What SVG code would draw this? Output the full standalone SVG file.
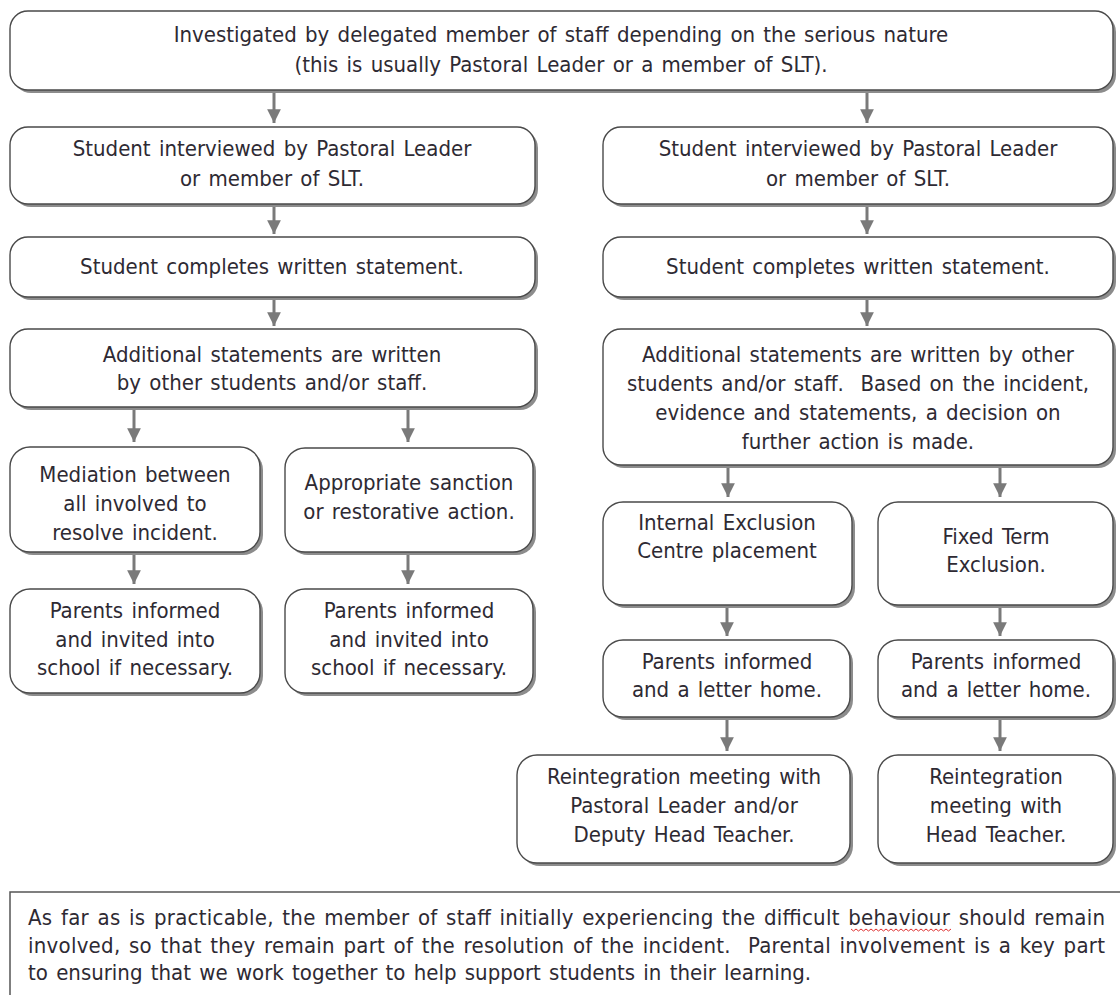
<svg xmlns="http://www.w3.org/2000/svg" width="1120" height="995" viewBox="0 0 1120 995">
<style>
  .sh { fill: #8c8c8c; }
  .box { fill: #ffffff; stroke: #4a4a4a; stroke-width: 1.4; }
  text { font-family: "DejaVu Sans Condensed", "DejaVu Sans", sans-serif; font-size: 22px; word-spacing: 2px; fill: #2e2a33; }
  .c { text-anchor: middle; }
  .conn line { stroke: #7a7a7a; stroke-width: 3; }
  .note { fill: #ffffff; stroke: #555555; stroke-width: 1.5; }
</style>
<defs>
  <marker id="ah" viewBox="0 0 10 10" refX="10" refY="5" markerWidth="4.6" markerHeight="4.6" markerUnits="strokeWidth" orient="auto">
    <path d="M0,0 L10,5 L0,10 Z" fill="#7a7a7a"/>
  </marker>
</defs>
<rect x="0" y="0" width="1120" height="995" fill="#ffffff"/>

<g class="conn" id="connectors">
  <line x1="274" y1="91" x2="274" y2="123" marker-end="url(#ah)"/>
  <line x1="867" y1="91" x2="867" y2="123" marker-end="url(#ah)"/>
  <line x1="274" y1="205" x2="274" y2="234" marker-end="url(#ah)"/>
  <line x1="867" y1="205" x2="867" y2="234" marker-end="url(#ah)"/>
  <line x1="274" y1="298" x2="274" y2="326" marker-end="url(#ah)"/>
  <line x1="867" y1="298" x2="867" y2="326" marker-end="url(#ah)"/>
  <line x1="134" y1="408" x2="134" y2="442" marker-end="url(#ah)"/>
  <line x1="408" y1="408" x2="408" y2="442" marker-end="url(#ah)"/>
  <line x1="134" y1="553" x2="134" y2="584" marker-end="url(#ah)"/>
  <line x1="408" y1="553" x2="408" y2="584" marker-end="url(#ah)"/>
  <line x1="728" y1="466" x2="728" y2="497" marker-end="url(#ah)"/>
  <line x1="1000" y1="466" x2="1000" y2="497" marker-end="url(#ah)"/>
  <line x1="727" y1="606" x2="727" y2="636" marker-end="url(#ah)"/>
  <line x1="1000" y1="606" x2="1000" y2="636" marker-end="url(#ah)"/>
  <line x1="727" y1="718" x2="727" y2="751" marker-end="url(#ah)"/>
  <line x1="1000" y1="718" x2="1000" y2="751" marker-end="url(#ah)"/>
</g>

<g id="investigated">
  <rect class="sh" x="13" y="14" width="1103" height="79" rx="18"/>
  <rect class="box" x="10" y="11" width="1103" height="79" rx="18"/>
  <text class="c" x="561" y="42">Investigated by delegated member of staff depending on the serious nature</text>
  <text class="c" x="561" y="72">(this is usually Pastoral Leader or a member of SLT).</text>
</g>

<g id="interview-left">
  <rect class="sh" x="13" y="130" width="525" height="77" rx="18"/>
  <rect class="box" x="10" y="127" width="525" height="77" rx="18"/>
  <text class="c" x="272" y="156">Student interviewed by Pastoral Leader</text>
  <text class="c" x="272" y="186">or member of SLT.</text>
</g>
<g id="interview-right">
  <rect class="sh" x="606" y="130" width="510" height="77" rx="18"/>
  <rect class="box" x="603" y="127" width="510" height="77" rx="18"/>
  <text class="c" x="858" y="156">Student interviewed by Pastoral Leader</text>
  <text class="c" x="858" y="186">or member of SLT.</text>
</g>

<g id="statement-left">
  <rect class="sh" x="13" y="240" width="525" height="60" rx="18"/>
  <rect class="box" x="10" y="237" width="525" height="60" rx="18"/>
  <text class="c" x="272" y="274">Student completes written statement.</text>
</g>
<g id="statement-right">
  <rect class="sh" x="606" y="240" width="510" height="60" rx="18"/>
  <rect class="box" x="603" y="237" width="510" height="60" rx="18"/>
  <text class="c" x="858" y="274">Student completes written statement.</text>
</g>

<g id="additional-left">
  <rect class="sh" x="13" y="332" width="525" height="78" rx="18"/>
  <rect class="box" x="10" y="329" width="525" height="78" rx="18"/>
  <text class="c" x="272" y="362">Additional statements are written</text>
  <text class="c" x="272" y="390">by other students and/or staff.</text>
</g>
<g id="additional-right">
  <rect class="sh" x="606" y="332" width="510" height="136" rx="18"/>
  <rect class="box" x="603" y="329" width="510" height="136" rx="18"/>
  <text class="c" x="858" y="362">Additional statements are written by other</text>
  <text class="c" x="858" y="391">students and/or staff.&#160; Based on the incident,</text>
  <text class="c" x="858" y="420">evidence and statements, a decision on</text>
  <text class="c" x="858" y="449">further action is made.</text>
</g>

<g id="mediation">
  <rect class="sh" x="13" y="450" width="250" height="105" rx="20"/>
  <rect class="box" x="10" y="447" width="250" height="105" rx="20"/>
  <text class="c" x="135" y="482">Mediation between</text>
  <text class="c" x="135" y="511">all involved to</text>
  <text class="c" x="135" y="540">resolve incident.</text>
</g>
<g id="sanction">
  <rect class="sh" x="288" y="451" width="248" height="104" rx="20"/>
  <rect class="box" x="285" y="448" width="248" height="104" rx="20"/>
  <text class="c" x="409" y="490">Appropriate sanction</text>
  <text class="c" x="409" y="519">or restorative action.</text>
</g>

<g id="parents-1">
  <rect class="sh" x="13" y="592" width="250" height="104" rx="20"/>
  <rect class="box" x="10" y="589" width="250" height="104" rx="20"/>
  <text class="c" x="135" y="618">Parents informed</text>
  <text class="c" x="135" y="647">and invited into</text>
  <text class="c" x="135" y="675">school if necessary.</text>
</g>
<g id="parents-2">
  <rect class="sh" x="288" y="592" width="248" height="104" rx="20"/>
  <rect class="box" x="285" y="589" width="248" height="104" rx="20"/>
  <text class="c" x="409" y="618">Parents informed</text>
  <text class="c" x="409" y="647">and invited into</text>
  <text class="c" x="409" y="675">school if necessary.</text>
</g>

<g id="internal-exclusion">
  <rect class="sh" x="606" y="505" width="249" height="103" rx="20"/>
  <rect class="box" x="603" y="502" width="249" height="103" rx="20"/>
  <text class="c" x="727" y="530">Internal Exclusion</text>
  <text class="c" x="727" y="558">Centre placement</text>
</g>
<g id="fixed-term">
  <rect class="sh" x="881" y="505" width="235" height="103" rx="20"/>
  <rect class="box" x="878" y="502" width="235" height="103" rx="20"/>
  <text class="c" x="996" y="544">Fixed Term</text>
  <text class="c" x="996" y="572">Exclusion.</text>
</g>

<g id="parents-3">
  <rect class="sh" x="606" y="643" width="247" height="77" rx="20"/>
  <rect class="box" x="603" y="640" width="247" height="77" rx="20"/>
  <text class="c" x="727" y="669">Parents informed</text>
  <text class="c" x="727" y="697">and a letter home.</text>
</g>
<g id="parents-4">
  <rect class="sh" x="881" y="643" width="235" height="77" rx="20"/>
  <rect class="box" x="878" y="640" width="235" height="77" rx="20"/>
  <text class="c" x="996" y="669">Parents informed</text>
  <text class="c" x="996" y="697">and a letter home.</text>
</g>

<g id="reintegration-deputy">
  <rect class="sh" x="520" y="758" width="333" height="108" rx="20"/>
  <rect class="box" x="517" y="755" width="333" height="108" rx="20"/>
  <text class="c" x="684" y="784">Reintegration meeting with</text>
  <text class="c" x="684" y="813">Pastoral Leader and/or</text>
  <text class="c" x="684" y="842">Deputy Head Teacher.</text>
</g>
<g id="reintegration-head">
  <rect class="sh" x="881" y="758" width="235" height="108" rx="20"/>
  <rect class="box" x="878" y="755" width="235" height="108" rx="20"/>
  <text class="c" x="996" y="784">Reintegration</text>
  <text class="c" x="996" y="813">meeting with</text>
  <text class="c" x="996" y="842">Head Teacher.</text>
</g>

<g id="note">
  <rect class="note" x="10" y="892" width="1120" height="120"/>
  <text x="28" y="925" textLength="1077" lengthAdjust="spacing">As far as is practicable, the member of staff initially experiencing the difficult behaviour should remain</text>
  <text x="28" y="953" textLength="1077" lengthAdjust="spacing">involved, so that they remain part of the resolution of the incident.&#160; Parental involvement is a key part</text>
  <text x="28" y="980">to ensuring that we work together to help support students in their learning.</text>
  <path d="M851,929 l2.5,2 l2.5,-2 l2.5,2 l2.5,-2 l2.5,2 l2.5,-2 l2.5,2 l2.5,-2 l2.5,2 l2.5,-2 l2.5,2 l2.5,-2 l2.5,2 l2.5,-2 l2.5,2 l2.5,-2 l2.5,2 l2.5,-2 l2.5,2 l2.5,-2 l2.5,2 l2.5,-2 l2.5,2 l2.5,-2 l2.5,2 l2.5,-2 l2.5,2 l2.5,-2 l2.5,2 l2.5,-2 l2.5,2 l2.5,-2 l2.5,2 l2.5,-2 l2.5,2 l2.5,-2 l2.5,2 l2.5,-2 l2.5,2 l2.5,-2" fill="none" stroke="#e03030" stroke-width="1"/>
</g>
</svg>
